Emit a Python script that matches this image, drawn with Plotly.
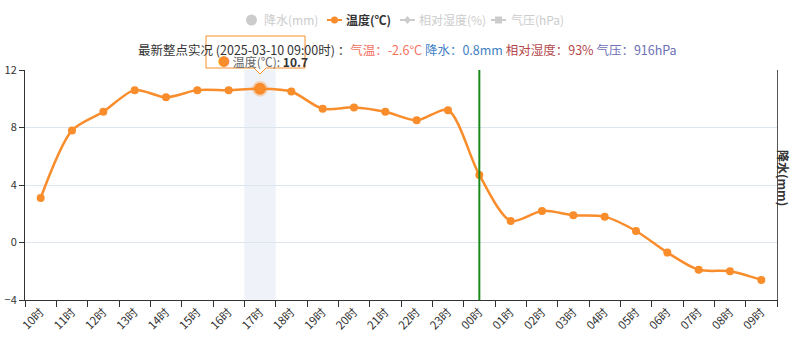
import plotly.graph_objects as go

# Hourly temperature, 10时 through 09时 of the next day
hours = ["10时", "11时", "12时", "13时", "14时", "15时", "16时", "17时", "18时", "19时",
         "20时", "21时", "22时", "23时", "00时", "01时", "02时", "03时", "04时", "05时",
         "06时", "07时", "08时", "09时"]
temperature = [3.1, 7.8, 9.1, 10.6, 10.1, 10.6, 10.6, 10.7, 10.5, 9.3,
               9.4, 9.1, 8.5, 9.2, 4.7, 1.5, 2.2, 1.9, 1.8, 0.8,
               -0.7, -1.9, -2.0, -2.6]
y_ticks = [-4, 0, 4, 8, 12]

focus_idx = 7          # hovered hour (17时)
midnight = "00时"       # day boundary marker

latest_time = "2025-03-10 09:00时"
latest_temp = "-2.6°C"
latest_rain = "0.8mm"
latest_rh = "93%"
latest_pres = "916hPa"

ORANGE = "#f98c2b"
GRAY = "#cccccc"
FONT = "Noto Sans CJK SC, Microsoft YaHei, sans-serif"

# plot area in pixels
W, H = 800, 343
L, R, T, B = 25, 23, 70, 43
PW, PH = W - L - R, H - T - B


def px_x(v):
    return (v - L) / PW


def px_y(v):
    return 1 - (v - T) / PH


fig = go.Figure()

fig.add_trace(go.Scatter(
    x=hours, y=temperature, mode="lines+markers",
    line=dict(color=ORANGE, width=2.5, shape="spline", smoothing=0.8),
    marker=dict(color=ORANGE, size=8),
    hoverinfo="skip", showlegend=False,
))
# emphasised (hovered) point
fig.add_trace(go.Scatter(
    x=[hours[focus_idx]], y=[temperature[focus_idx]], mode="markers",
    marker=dict(color=ORANGE, size=12, line=dict(color="rgba(249,140,43,0.3)", width=4)),
    hoverinfo="skip", showlegend=False,
))

shapes = [
    # hover band behind the focused hour
    dict(type="rect", xref="x", yref="paper", x0=focus_idx - 0.5, x1=focus_idx + 0.5,
         y0=0, y1=1, fillcolor="#eff3f9", line=dict(width=0), layer="below"),
    # midnight marker
    dict(type="line", xref="x", yref="paper", x0=hours.index(midnight), x1=hours.index(midnight),
         y0=0, y1=1, line=dict(color="#1a8a1a", width=2), layer="above"),
]

# ---- legend drawn by hand (three series are toggled off) ----
legend_y = px_y(20)
shapes += [
    dict(type="circle", xref="paper", yref="paper", x0=px_x(246), x1=px_x(257),
         y0=px_y(25.5), y1=px_y(14.5), fillcolor=GRAY, line=dict(width=0)),
    dict(type="line", xref="paper", yref="paper", x0=px_x(327), x1=px_x(342),
         y0=legend_y, y1=legend_y, line=dict(color=ORANGE, width=2)),
    dict(type="circle", xref="paper", yref="paper", x0=px_x(331), x1=px_x(338),
         y0=px_y(23.5), y1=px_y(16.5), fillcolor=ORANGE, line=dict(width=0)),
    dict(type="line", xref="paper", yref="paper", x0=px_x(400), x1=px_x(415),
         y0=legend_y, y1=legend_y, line=dict(color=GRAY, width=2)),
    dict(type="path", xref="paper", yref="paper",
         path=f"M {px_x(407.5)},{px_y(16)} L {px_x(411)},{legend_y} L {px_x(407.5)},{px_y(24)} L {px_x(404)},{legend_y} Z",
         fillcolor=GRAY, line=dict(width=0)),
    dict(type="line", xref="paper", yref="paper", x0=px_x(491), x1=px_x(506),
         y0=legend_y, y1=legend_y, line=dict(color=GRAY, width=2)),
    dict(type="rect", xref="paper", yref="paper", x0=px_x(495), x1=px_x(502),
         y0=px_y(23.5), y1=px_y(16.5), fillcolor=GRAY, line=dict(width=0)),
]

# ---- tooltip box with pointer ----
tl, tr, tt, tb, tip_x = 206, 305, 36, 68, 260
tooltip_path = (f"M {px_x(tl)},{px_y(tt)} L {px_x(tr)},{px_y(tt)} L {px_x(tr)},{px_y(tb)} "
                f"L {px_x(tip_x + 6)},{px_y(tb)} L {px_x(tip_x)},{px_y(tb + 6)} L {px_x(tip_x - 6)},{px_y(tb)} "
                f"L {px_x(tl)},{px_y(tb)} Z")
shapes.append(dict(type="path", xref="paper", yref="paper", path=tooltip_path,
                   fillcolor="rgba(255,255,255,0.85)", line=dict(color=ORANGE, width=1), layer="above"))

annotations = [
    dict(text="降水(mm)", x=px_x(262), y=legend_y, xref="paper", yref="paper", xanchor="left",
         yanchor="middle", showarrow=False, font=dict(size=12, color=GRAY, family=FONT)),
    dict(text="<b>温度(℃)</b>", x=px_x(344), y=legend_y, xref="paper", yref="paper", xanchor="left",
         yanchor="middle", showarrow=False, font=dict(size=12, color="#333333", family=FONT)),
    dict(text="相对湿度(%)", x=px_x(417), y=legend_y, xref="paper", yref="paper", xanchor="left",
         yanchor="middle", showarrow=False, font=dict(size=12, color=GRAY, family=FONT)),
    dict(text="气压(hPa)", x=px_x(509), y=legend_y, xref="paper", yref="paper", xanchor="left",
         yanchor="middle", showarrow=False, font=dict(size=12, color=GRAY, family=FONT)),
    # latest observation line
    dict(text=(f"<span style='color:#333333'>最新整点实况 ({latest_time}) ：</span>"
               f"<span style='color:#f2705e'>气温：{latest_temp}</span> "
               f"<span style='color:#3f7fc4'>降水：{latest_rain}</span> "
               f"<span style='color:#b4474c'>相对湿度：{latest_rh}</span> "
               f"<span style='color:#6b6fb6'>气压：{latest_pres}</span>"),
         x=px_x(136), y=px_y(49), xref="paper", yref="paper", xanchor="left", yanchor="middle",
         showarrow=False, font=dict(size=12.5, family=FONT)),
    # tooltip content
    dict(text=(f"<span style='color:{ORANGE}'>●</span> <span style='color:#666666'>温度(℃): </span>"
               f"<b>{temperature[focus_idx]}</b>"),
         x=px_x(216), y=px_y(61), xref="paper", yref="paper", xanchor="left", yanchor="middle",
         showarrow=False, font=dict(size=12, color="#333333", family=FONT)),
    # right axis title
    dict(text="<b>降水(mm)</b>", x=px_x(784), y=px_y(178), xref="paper", yref="paper",
         xanchor="center", yanchor="middle", textangle=90, showarrow=False,
         font=dict(size=12, color="#333333", family=FONT)),
]

fig.update_layout(
    width=W, height=H,
    margin=dict(l=L, r=R, t=T, b=B, autoexpand=False),
    paper_bgcolor="white", plot_bgcolor="white",
    font=dict(family=FONT, size=11, color="#333333"),
    shapes=shapes, annotations=annotations,
    xaxis=dict(
        type="category", categoryorder="array", categoryarray=hours,
        range=[-0.5, len(hours) - 0.5], automargin=False,
        tickson="boundaries", ticks="outside", ticklen=6, tickcolor="#333333",
        tickangle=-45, tickfont=dict(size=11.5, color="#333333"),
        showline=True, linecolor="#333333", linewidth=1,
        showgrid=False, zeroline=False, fixedrange=True,
    ),
    yaxis=dict(
        range=[-4, 12], tickvals=y_ticks, ticks="outside", ticklen=5, tickcolor="#333333",
        tickfont=dict(size=11, color="#333333"), automargin=False,
        showline=True, linecolor="#333333", linewidth=1,
        showgrid=True, gridcolor="#dde5ef", gridwidth=1, zeroline=False, fixedrange=True,
    ),
    yaxis2=dict(
        overlaying="y", side="right", range=[-4, 12], showticklabels=False, automargin=False,
        showline=True, linecolor="#555555", linewidth=1, showgrid=False, zeroline=False, ticks="",
    ),
)
# anchor the right axis line with an empty trace
fig.add_trace(go.Scatter(x=[hours[0]], y=[None], yaxis="y2", showlegend=False, hoverinfo="skip"))

fig.write_html("out.html")
